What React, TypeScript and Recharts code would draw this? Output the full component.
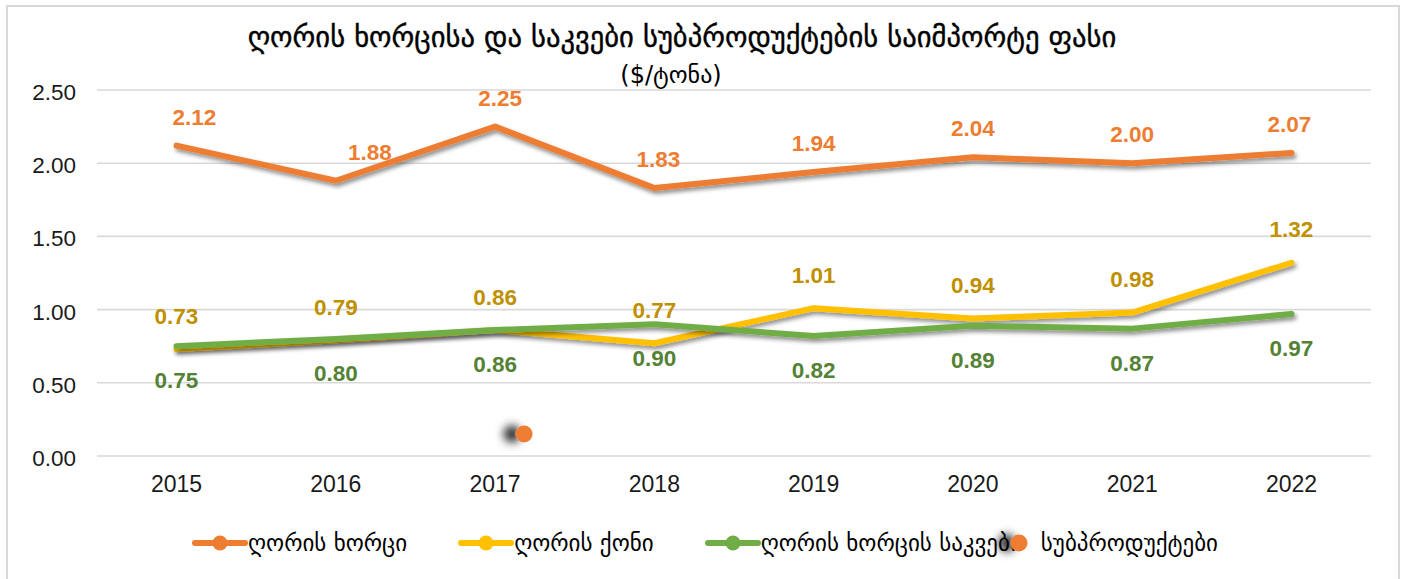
import React from "react";
import { LineChart, Line, XAxis, YAxis, CartesianGrid, LabelList } from "recharts";

const years = ["2015", "2016", "2017", "2018", "2019", "2020", "2021", "2022"];
const porkMeat = [2.12, 1.88, 2.25, 1.83, 1.94, 2.04, 2.0, 2.07];
const porkFat = [0.73, 0.79, 0.86, 0.77, 1.01, 0.94, 0.98, 1.32];
const porkOffal = [0.75, 0.8, 0.86, 0.9, 0.82, 0.89, 0.87, 0.97];
const strayPoint = [null, null, 0.15, null, null, null, null, null];
const yTicks = [0, 0.5, 1, 1.5, 2, 2.5];

const title = "ღორის ხორცისა და საკვები სუბპროდუქტების საიმპორტე ფასი";
const subtitle = "($/ტონა)";
const seriesNames = ["ღორის ხორცი", "ღორის ქონი", "ღორის ხორცის საკვები", "სუბპროდუქტები"];

const COLORS = { meat: "#ED7D31", fat: "#FFC000", offal: "#70AD47" };
const LABEL_COLORS = { meat: "#ED7D31", fat: "#BF9000", offal: "#548235" };
// horizontal nudges for the orange labels (Excel's manual placement)
const meatLabelDx = [18, 34, 5, 4, 0, 0, 0, -2];

const data = years.map((y, i) => ({
  year: y,
  meat: porkMeat[i],
  fat: porkFat[i],
  offal: porkOffal[i],
  sub: strayPoint[i],
}));

const GEO = "'DejaVu Sans', sans-serif";
const LAT = "'Liberation Sans', Arial, sans-serif";

const makeLabel = (color: string, dy: number, dxArr?: number[]) => (props: any) => {
  const { x, y, value, index } = props;
  if (value == null) return null;
  const dx = dxArr ? dxArr[index] || 0 : 0;
  return (
    <text
      x={x + dx}
      y={y + dy}
      textAnchor="middle"
      dominantBaseline="central"
      fontFamily={LAT}
      fontWeight="bold"
      fontSize={22.5}
      fill={color}
    >
      {Number(value).toFixed(2)}
    </text>
  );
};

const StrayDot = (props: any) => {
  const { cx, cy, value, index } = props;
  if (value == null || cx == null) return <g key={`sd-${index}`} />;
  return (
    <circle key={`sd-${index}`} cx={cx + 29} cy={cy} r={8.5} fill={COLORS.meat} filter="url(#leftShadow)" />
  );
};

const LineMarker = ({ color }: { color: string }) => (
  <svg width={56} height={18} style={{ display: "block" }}>
    <line x1={3} y1={9} x2={53} y2={9} stroke={color} strokeWidth={6} strokeLinecap="round" />
    <circle cx={28} cy={9} r={7.5} fill={color} />
  </svg>
);

export default function App() {
  const legendItems = [
    { name: seriesNames[0], color: COLORS.meat, kind: "line" },
    { name: seriesNames[1], color: COLORS.fat, kind: "line" },
    { name: seriesNames[2], color: COLORS.offal, kind: "line" },
    { name: seriesNames[3], color: COLORS.meat, kind: "dot" },
  ];
  return (
    <div style={{ position: "absolute", left: 0, top: 0, width: 1404, height: 579, background: "#fff", overflow: "hidden" }}>
      <svg width={0} height={0} style={{ position: "absolute" }}>
        <defs>
          <filter id="lineShadow" x="-10%" y="-50%" width="120%" height="200%">
            <feDropShadow dx={2} dy={3} stdDeviation={2.2} floodColor="#000" floodOpacity={0.45} />
          </filter>
          <filter id="leftShadow" x="-400%" y="-300%" width="800%" height="700%">
            <feDropShadow dx={-12} dy={0} stdDeviation={5} floodColor="#000" floodOpacity={0.85} />
          </filter>
        </defs>
      </svg>
      <div
        style={{
          position: "absolute",
          left: 6,
          top: 5,
          width: 1390,
          height: 620,
          border: "2px solid #d9d9d9",
        }}
      />
      <div
        style={{
          position: "absolute",
          left: 0,
          width: 1364,
          top: 20,
          textAlign: "center",
          fontFamily: GEO,
          fontSize: 28.6,
          color: "#000",
          whiteSpace: "nowrap",
          WebkitTextStroke: "0.4px #000",
        }}
      >
        {title}
      </div>
      <div
        style={{
          position: "absolute",
          left: 0,
          width: 1342,
          top: 61,
          textAlign: "center",
          fontFamily: GEO,
          fontSize: 24,
          color: "#000",
        }}
      >
        {subtitle}
      </div>
      <div style={{ position: "absolute", left: 0, top: 0 }}>
        <LineChart width={1404} height={579} data={data} margin={{ top: 90, right: 33, left: 0, bottom: 93 }}>
          <CartesianGrid horizontal vertical={false} stroke="#d9d9d9" strokeWidth={1.6} />
          <XAxis
            dataKey="year"
            height={30}
            padding={{ left: 79.5, right: 79.5 }}
            axisLine={false}
            tickLine={false}
            tickMargin={14}
            tick={{ fontFamily: LAT, fontSize: 23, fill: "#1a1a1a" }}
          />
          <YAxis
            width={97}
            domain={[0, 2.5]}
            ticks={yTicks}
            interval={0}
            axisLine={false}
            tickLine={false}
            tickMargin={15}
            tickFormatter={(v: number) => v.toFixed(2)}
            tick={{ fontFamily: LAT, fontSize: 22.5, fill: "#1a1a1a", dy: 2 }}
          />
          <Line
            dataKey="meat"
            name={seriesNames[0]}
            stroke={COLORS.meat}
            strokeWidth={6}
            strokeLinecap="round"
            strokeLinejoin="round"
            dot={false}
            activeDot={false}
            filter="url(#lineShadow)"
            isAnimationActive={false}
          >
            <LabelList dataKey="meat" content={makeLabel(LABEL_COLORS.meat, -28.5, meatLabelDx)} />
          </Line>
          <Line
            dataKey="fat"
            name={seriesNames[1]}
            stroke={COLORS.fat}
            strokeWidth={6}
            strokeLinecap="round"
            strokeLinejoin="round"
            dot={false}
            activeDot={false}
            filter="url(#lineShadow)"
            isAnimationActive={false}
          >
            <LabelList dataKey="fat" content={makeLabel(LABEL_COLORS.fat, -33)} />
          </Line>
          <Line
            dataKey="offal"
            name={seriesNames[2]}
            stroke={COLORS.offal}
            strokeWidth={6}
            strokeLinecap="round"
            strokeLinejoin="round"
            dot={false}
            activeDot={false}
            filter="url(#lineShadow)"
            isAnimationActive={false}
          >
            <LabelList dataKey="offal" content={makeLabel(LABEL_COLORS.offal, 34.5)} />
          </Line>
          <Line
            dataKey="sub"
            name={seriesNames[3]}
            stroke="none"
            dot={StrayDot}
            activeDot={false}
            connectNulls={false}
            isAnimationActive={false}
          />
        </LineChart>
      </div>
      <div
        style={{
          position: "absolute",
          left: 192,
          top: 530,
          display: "flex",
          alignItems: "center",
          fontFamily: GEO,
          fontSize: 23,
          color: "#000",
          whiteSpace: "nowrap",
        }}
      >
        {legendItems.map((it, i) => (
          <div
            key={i}
            style={{
              display: "flex",
              alignItems: "center",
              marginRight: it.kind === "line" && i < 2 ? 51 : 0,
            }}
          >
            {it.kind === "line" ? (
              <LineMarker color={it.color} />
            ) : (
              <svg width={34} height={24} style={{ display: "block", overflow: "visible", marginLeft: -15 }}>
                <circle cx={12} cy={12} r={8.5} fill={it.color} filter="url(#leftShadow)" />
              </svg>
            )}
            <span>{it.name}</span>
          </div>
        ))}
      </div>
    </div>
  );
}
